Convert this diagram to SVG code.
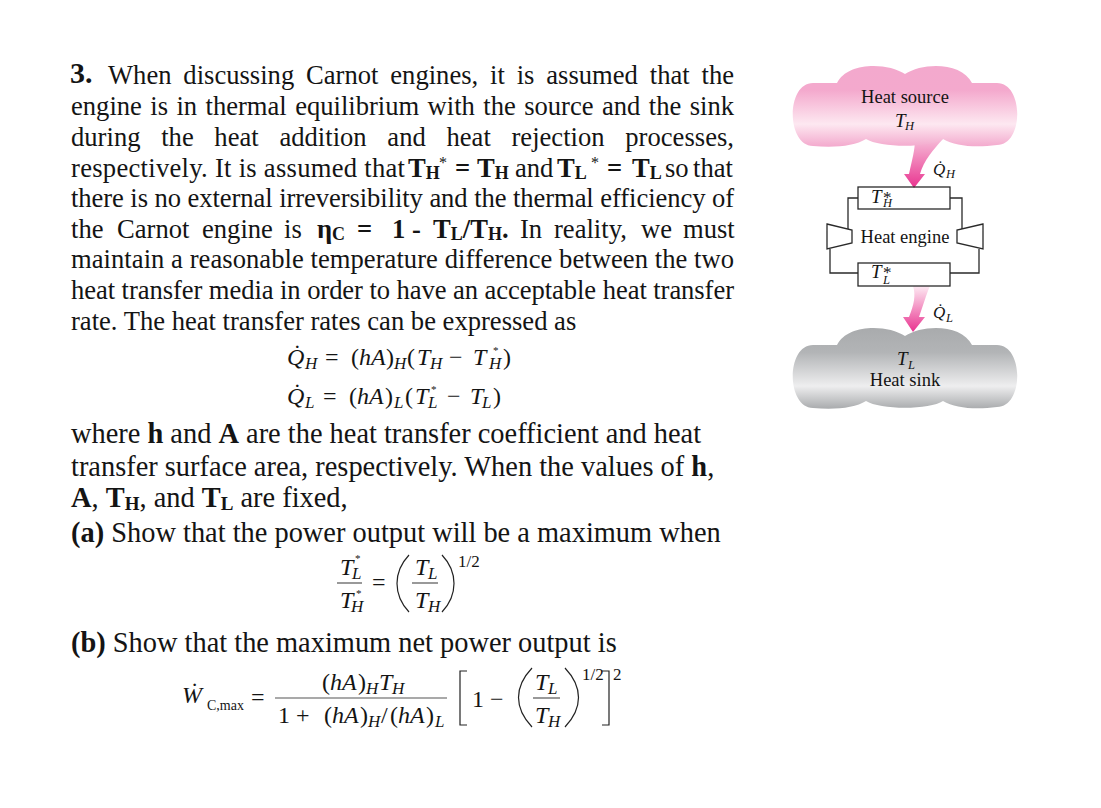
<svg xmlns="http://www.w3.org/2000/svg" xmlns:xlink="http://www.w3.org/1999/xlink" width="1101" height="808" viewBox="0 0 1101 808">
<style>
text{font-family:"Liberation Serif","Times New Roman",serif;fill:#141414}
.b{font-size:26.6px}
.b2{font-size:28.4px}
.bold{font-weight:bold}
.sub{font-size:18px;font-weight:bold}
.sub2{font-size:19px;font-weight:bold}
.m{font-size:24px;font-style:italic}
.r{font-size:24px}
.s{font-size:17px;font-style:italic}
.n{font-size:17px}
.st{font-size:11px}
.d{font-size:18.5px}
.di{font-size:19px;font-style:italic}
.dq{font-size:17px;font-style:italic}
.ds{font-size:12.5px;font-style:italic}
.dst{font-size:17px}
.ink{fill:none;stroke:#2a2a2a;stroke-width:1.3}
.br{fill:none;stroke:#222;stroke-width:1.2}
.rule{stroke:#555;stroke-width:1.2}
</style>
<defs>
<linearGradient id="pinkCloud" x1="0" y1="0" x2="0" y2="1"><stop offset="0" stop-color="#f3a9cd"/><stop offset="0.3" stop-color="#f4a9cd"/><stop offset="0.72" stop-color="#fde8f1"/><stop offset="1" stop-color="#f3a9cd"/></linearGradient>
<linearGradient id="greyCloud" x1="0" y1="0" x2="0" y2="1"><stop offset="0" stop-color="#a9abad"/><stop offset="0.3" stop-color="#b2b4b6"/><stop offset="0.72" stop-color="#eeeeef"/><stop offset="1" stop-color="#a9abad"/></linearGradient>
<linearGradient id="arrowA" x1="0" y1="0" x2="0" y2="1"><stop offset="0" stop-color="#f6bcd8"/><stop offset="1" stop-color="#e9338f"/></linearGradient>
<linearGradient id="arrowB" x1="0" y1="0" x2="0" y2="1"><stop offset="0" stop-color="#fdeaf3"/><stop offset="1" stop-color="#e9338f"/></linearGradient>
<path id="cloud" d="M837 83C847 62 887 62 905 74C923 62 962 62 972 83L997 83C1024 83 1024 145 997 145C975 148 955 146 943 139C930 148 880 148 866 139C855 146 835 148 813 146C786 145 786 83 813 83Z"/>
</defs>

<g id="problem-text">
<text y="83" x="70" class="bold" font-size="30">3.</text>
<text class="b" y="84" x="108" textLength="626" style="word-spacing:5.2px">When discussing Carnot engines, it is assumed that the</text>
<text class="b" y="115" x="71" textLength="663" style="word-spacing:1.75px">engine is in thermal equilibrium with the source and the sink</text>
<text class="b" y="146" x="71" textLength="663" style="word-spacing:14px">during the heat addition and heat rejection processes,</text>
<text class="b" y="177"><tspan x="71" textLength="334">respectively. It is assumed that</tspan><tspan x="408" class="bold">T</tspan><tspan class="sub" dy="2">H</tspan><tspan dy="-11" x="439" font-size="16">*</tspan><tspan dy="9" x="455" class="bold">=</tspan><tspan x="477" class="bold">T</tspan><tspan class="sub" dy="2">H</tspan><tspan x="515" dy="-2">and</tspan><tspan x="557" class="bold">T</tspan><tspan class="sub" dy="2">L</tspan><tspan dy="-11" x="591" font-size="16">*</tspan><tspan dy="9" x="607" class="bold">=</tspan><tspan x="632" class="bold">T</tspan><tspan class="sub" dy="2">L</tspan><tspan x="665" dy="-2">so</tspan><tspan x="693">that</tspan></text>
<text class="b" y="207" x="71" textLength="663">there is no external irreversibility and the thermal efficiency of</text>
<text class="b" y="238"><tspan x="71">the</tspan><tspan x="117">Carnot</tspan><tspan x="202">engine</tspan><tspan x="284">is</tspan><tspan x="317" class="bold">η</tspan><tspan class="sub" dy="2">C</tspan><tspan x="357" dy="-2" class="bold">=</tspan><tspan x="392" class="bold">1</tspan><tspan x="412" class="bold">-</tspan><tspan x="433" class="bold">T</tspan><tspan class="sub" dy="2">L</tspan><tspan class="bold" dy="-2">/T</tspan><tspan class="sub" dy="2">H</tspan><tspan class="bold" dy="-2">.</tspan><tspan x="520">In</tspan><tspan x="554">reality,</tspan><tspan x="641">we</tspan><tspan x="683">must</tspan></text>
<text class="b" y="268" x="71" textLength="663">maintain a reasonable temperature difference between the two</text>
<text class="b" y="299" x="71" textLength="663">heat transfer media in order to have an acceptable heat transfer</text>
<text class="b" y="330" x="71">rate. The heat transfer rates can be expressed as</text>
<text class="b2" y="443" x="71">where <tspan class="bold">h</tspan> and <tspan class="bold">A</tspan> are the heat transfer coefficient and heat</text>
<text class="b2" y="476" x="71">transfer surface area, respectively. When the values of <tspan class="bold">h</tspan>,</text>
<text class="b2" y="507" x="71"><tspan class="bold">A</tspan>, <tspan class="bold">T</tspan><tspan class="sub2" dy="3">H</tspan><tspan dy="-3">, and </tspan><tspan class="bold">T</tspan><tspan class="sub2" dy="3">L</tspan><tspan dy="-3"> are fixed,</tspan></text>
<text class="b2" y="542" x="71"><tspan class="bold">(a)</tspan> Show that the power output will be a maximum when</text>
<text class="b2" y="652" x="71"><tspan class="bold">(b)</tspan> Show that the maximum net power output is</text>
</g>

<g id="equation-heat-rates">
<text class="m" x="287" y="365">Q̇</text><text class="s" x="305" y="369">H</text>
<text class="r" x="325" y="365">=</text><text class="r" x="351" y="365">(</text><text class="m" x="359" y="365">hA</text><text class="r" x="386" y="365">)</text><text class="s" x="394" y="369">H</text><text class="r" x="407" y="365">(</text><text class="m" x="417" y="365">T</text><text class="s" x="430" y="369">H</text><text class="r" x="449" y="365">−</text><text class="m" x="473" y="365">T</text><text class="s" x="489" y="369">H</text><text class="st" x="493" y="354">*</text><text class="r" x="503" y="365">)</text>
<text class="m" x="287" y="404">Q̇</text><text class="s" x="305" y="408">L</text>
<text class="r" x="323" y="404">=</text><text class="r" x="349" y="404">(</text><text class="m" x="357" y="404">hA</text><text class="r" x="385" y="404">)</text><text class="s" x="394" y="408">L</text><text class="r" x="405" y="404">(</text><text class="m" x="415" y="404">T</text><text class="s" x="428" y="408">L</text><text class="st" x="431" y="393">*</text><text class="r" x="447" y="404">−</text><text class="m" x="470" y="404">T</text><text class="s" x="482" y="408">L</text><text class="r" x="493" y="404">)</text>
</g>

<g id="equation-ratio">
<text class="m" x="340" y="575">T</text><text class="s" x="352" y="579">L</text><text class="st" x="355" y="562">*</text>
<line class="rule" x1="337" y1="583" x2="362" y2="583"/>
<text class="m" x="340" y="608">T</text><text class="s" x="351" y="612">H</text><text class="st" x="356" y="597">*</text>
<text class="r" x="372" y="590">=</text>
<path class="br" d="M409 555C393 572 393 595 409 612"/>
<text class="m" x="415" y="575">T</text><text class="s" x="428" y="579">L</text>
<line class="rule" x1="412" y1="583" x2="438" y2="583"/>
<text class="m" x="415" y="608">T</text><text class="s" x="428" y="612">H</text>
<path class="br" d="M442 555C458 572 458 595 442 612"/>
<text class="n" x="458" y="567">1/2</text>
</g>

<g id="equation-power">
<text class="m" x="182" y="703">Ẇ</text><text class="n" x="207" y="710" style="font-size:14px">C,max</text>
<text class="r" x="251" y="705">=</text>
<text class="r" x="322" y="690">(</text><text class="m" x="330" y="690">hA</text><text class="r" x="358" y="690">)</text><text class="s" x="366" y="694">H</text><text class="m" x="379" y="690">T</text><text class="s" x="392" y="694">H</text>
<line class="rule" x1="275" y1="698" x2="447" y2="698"/>
<text class="r" x="278" y="723">1</text><text class="r" x="296" y="723">+</text><text class="r" x="324" y="723">(</text><text class="m" x="332" y="723">hA</text><text class="r" x="360" y="723">)</text><text class="s" x="368" y="727">H</text><text class="r" x="381" y="723">/</text><text class="r" x="390" y="723">(</text><text class="m" x="398" y="723">hA</text><text class="r" x="426" y="723">)</text><text class="s" x="435" y="727">L</text>
<path class="br" d="M467 671H460V725H467"/>
<text class="r" x="472" y="707">1</text><text class="r" x="490" y="707">−</text>
<path class="br" d="M532 668C514 687 514 708 532 727"/>
<text class="m" x="535" y="690">T</text><text class="s" x="548" y="694">L</text>
<line class="rule" x1="533" y1="698" x2="560" y2="698"/>
<text class="m" x="535" y="723">T</text><text class="s" x="548" y="727">H</text>
<path class="br" d="M565 668C583 687 583 708 565 727"/>
<text class="n" x="582" y="680">1/2</text>
<path class="br" d="M602 671H609V725H602"/>
<text class="n" x="613" y="680">2</text>
</g>

<g id="connectors">
<path d="M915 139C915 150 912 160 909 174H904L914 188L925 174H920C924 160 933 150 943 139Z" fill="url(#arrowA)"/>
<path d="M913 286C916 295 914 305 909 317H903L913 332L925 317H919C924 303 926 295 930 286Z" fill="url(#arrowB)"/>
<path class="ink" d="M858 198H848V229M950 198H962V229M830 249V273H858M979 249V273H950"/>
</g>

<g id="heat-source">
<use href="#cloud" xlink:href="#cloud" fill="url(#pinkCloud)"/>
<text class="d" x="905" y="103" text-anchor="middle">Heat source</text>
<text class="di" x="895" y="127">T</text><text class="ds" x="905" y="130">H</text>
</g>
<g id="heat-flow-labels">
<text class="dq" x="933" y="175">Q̇</text><text class="ds" x="946" y="178">H</text>
<text class="dq" x="933" y="318">Q̇</text><text class="ds" x="946" y="322">L</text>
</g>
<g id="heat-engine">
<rect class="ink" x="858" y="187" width="92" height="22" fill="#fff"/>
<text class="di" x="871" y="203">T</text><text class="ds" x="883" y="207">H</text><text class="dst" x="883" y="203">*</text>
<path class="ink" d="M827 224L852 230V243L827 249Z"/>
<path class="ink" d="M983 224L957 230V243L983 249Z"/>
<text class="d" x="905" y="243" text-anchor="middle">Heat engine</text>
<rect class="ink" x="858" y="263" width="92" height="23" fill="#fff"/>
<text class="di" x="871" y="278">T</text><text class="ds" x="883" y="284">L</text><text class="dst" x="883" y="278">*</text>
</g>
<g id="heat-sink">
<use href="#cloud" xlink:href="#cloud" y="262" fill="url(#greyCloud)"/>
<text class="di" x="897" y="365">T</text><text class="ds" x="908" y="369">L</text>
<text class="d" x="905" y="386" text-anchor="middle">Heat sink</text>
</g>
</svg>
